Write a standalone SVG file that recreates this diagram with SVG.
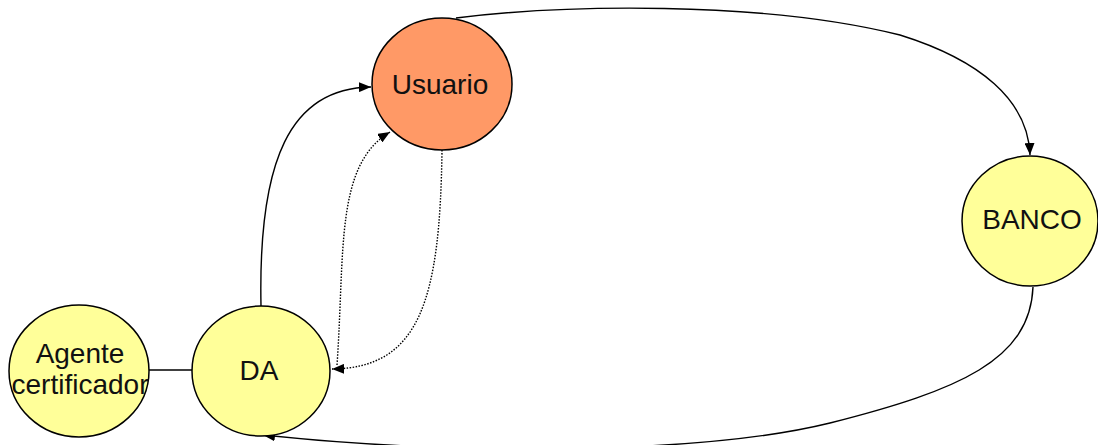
<svg xmlns="http://www.w3.org/2000/svg" width="1098" height="445" viewBox="0 0 1098 445">
<style>
.node{stroke:#000;stroke-width:1.5}
.y{fill:#FFFF99}
.o{fill:#FF9966}
.t{font-family:"Liberation Sans",Arial,sans-serif;font-size:28px;fill:#111;text-anchor:middle}
.c{fill:none;stroke:#000;stroke-width:1.4}
.d{fill:none;stroke:#000;stroke-width:1.4;stroke-dasharray:1.5 1.5}
</style>
<defs>
<marker id="ah" markerWidth="12" markerHeight="10" refX="12" refY="5" orient="auto" markerUnits="userSpaceOnUse">
<path d="M0,0 L12,5 L0,10 Z" fill="#000"/>
</marker>
</defs>
<rect width="1098" height="445" fill="#fff"/>
<g id="connectors">
<path class="c" d="M149,370 L192,370"/>
<path class="c" d="M261,306 C258,160 290,88 371,87" marker-end="url(#ah)"/>
<path class="d" d="M337,365 C345,250 335,165 390,132" marker-end="url(#ah)"/>
<path class="d" d="M442,150 C440,300 420,368 332,369" marker-end="url(#ah)"/>
<path class="c" d="M456,18 C560,5 760,0 900,35 C980,60 1028,100 1030,155" marker-end="url(#ah)"/>
<path class="c" d="M1033,287 C1030,360 960,390 830,423 C700,455 450,455 263,435" marker-end="url(#ah)"/>
</g>
<g id="agente">
<ellipse class="node y" cx="79" cy="371" rx="70" ry="66"/>
<text class="t" x="80" y="363">Agente</text>
<text class="t" x="80" y="394">certificador</text>
</g>
<g id="da">
<ellipse class="node y" cx="261" cy="371" rx="69" ry="65"/>
<text class="t" x="259" y="380">DA</text>
</g>
<g id="usuario">
<ellipse class="node o" cx="442" cy="84" rx="70" ry="66"/>
<text class="t" x="440" y="94">Usuario</text>
</g>
<g id="banco">
<ellipse class="node y" cx="1030" cy="221" rx="68" ry="65"/>
<text class="t" x="1032" y="229">BANCO</text>
</g>
</svg>
